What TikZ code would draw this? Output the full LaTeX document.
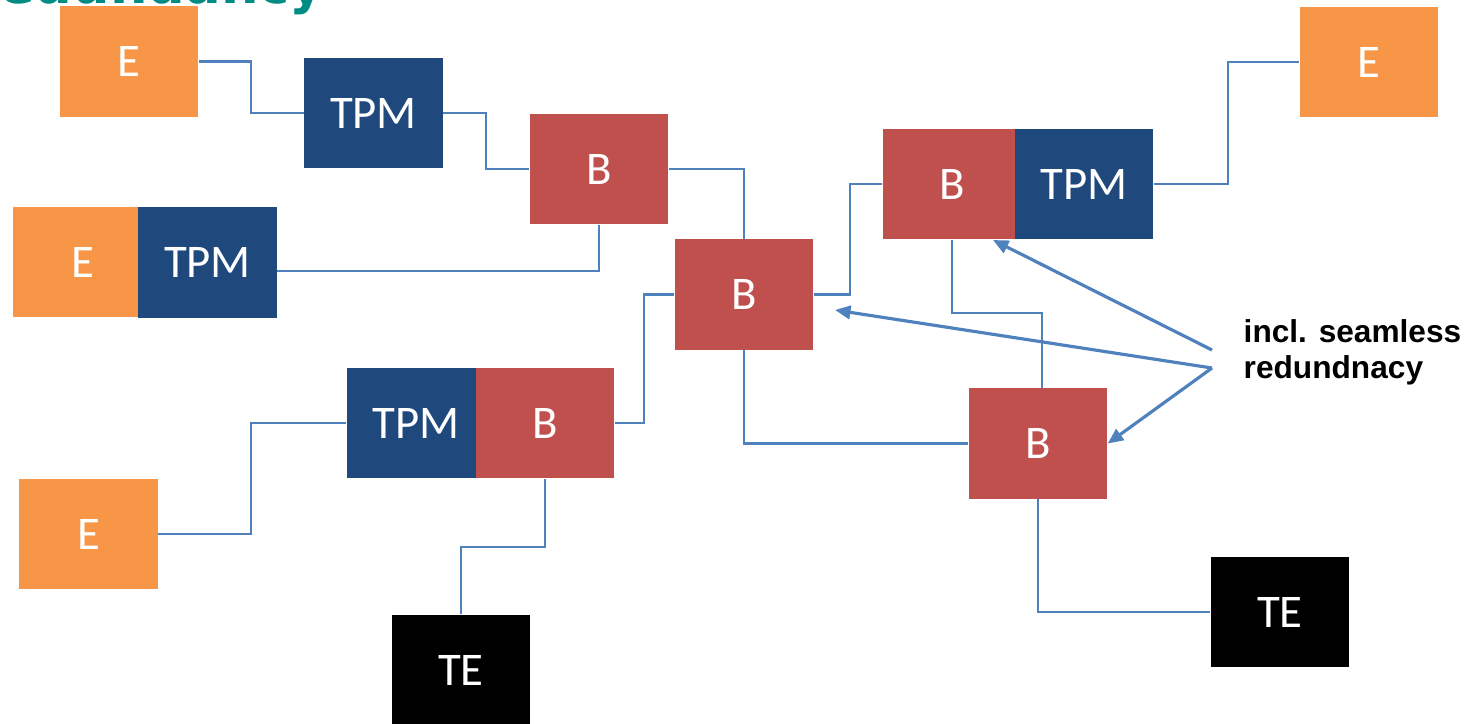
\documentclass[tikz,border=0pt]{standalone}
\usepackage{fontspec}
\setmainfont{Carlito}
\newfontfamily\notefont{Liberation Sans}
\newfontfamily\headfont{DejaVu Sans}
\usetikzlibrary{arrows.meta}
\definecolor{eorange}{HTML}{F79646}
\definecolor{tpmblue}{HTML}{1F497D}
\definecolor{bred}{HTML}{C0504D}
\definecolor{linkblue}{HTML}{4F81BD}
\definecolor{headteal}{RGB}{0,140,130}
\begin{document}
\begin{tikzpicture}[x=0.01cm,y=-0.01cm,
        box/.style={minimum width=1.38cm,minimum height=1.1cm,inner sep=0pt,text=white,
            font=\fontsize{13.3}{16}\selectfont},
        ebox/.style={box,fill=eorange},
        tpmbox/.style={box,fill=tpmblue},
        bbox/.style={box,fill=bred},
        tebox/.style={box,fill=black},
        link/.style={draw=linkblue,line width=0.6pt},
        hint/.style={draw=linkblue,line width=0.9pt,-{Triangle[length=4.4pt,width=3.8pt]}}]
    \useasboundingbox (0,0) rectangle (1466,723);
    \begin{scope}
        \clip (0,0) rectangle (1466,723);
        \node[anchor=base east,inner sep=0pt,text=headteal,
            font=\headfont\bfseries\fontsize{15}{18}\selectfont] (head) at (325,3) {Redundancy};
    \end{scope}
    % ends, bridges, TPMs
    \node[ebox] (e1) at (129,61.5) {E};
    \node[tpmbox] (tpm1) at (373.5,113) {TPM};
    \node[bbox] (b1) at (599,169) {B};
    \node[ebox] (e2) at (82.5,262) {E};
    \node[tpmbox] (tpm2) at (207.5,262.5) {TPM};
    \node[bbox] (b2) at (744,294.5) {B};
    \node[bbox] (b3) at (952,184) {B};
    \node[tpmbox] (tpm3) at (1084,184) {TPM};
    \node[ebox] (e3) at (1369,62) {E};
    \node[tpmbox] (tpm4) at (416,423) {TPM};
    \node[bbox] (b4) at (545,423) {B};
    \node[ebox] (e4) at (88.5,534) {E};
    \node[bbox] (b5) at (1038,443.5) {B};
    \node[tebox] (te1) at (461,670) {TE};
    \node[tebox] (te2) at (1280,612) {TE};
    % wiring
    \draw[link] (e1.east) -- ++(52,0) |- (tpm1.west);
    \draw[link] (tpm1.east) -- ++(43,0) |- (b1.west);
    \draw[link] (b1.south) |- ([yshift=-2.4pt]tpm2.east);
    \draw[link] (b1.east) -| (b2.north);
    \draw[link] (b2.east) -- ++(36,0) |- (b3.west);
    \draw[link] (b2.west) -- ++(-30,0) |- (b4.east);
    \draw[link] (tpm4.west) -- ++(-95,0) |- (e4.east);
    \draw[link] (b4.south) -- ++(0,68) -| (te1.north);
    \draw[link] (b2.south) |- (b5.west);
    \draw[link] (b3.south) -- ++(0,73) -| ([xshift=1.1pt]b5.north);
    \draw[link] (b5.south) |- (te2.west);
    \draw[link] (tpm3.east) -- ++(74,0) |- (e3.west);
    % redundancy note
    \node[anchor=west,align=left,inner sep=0pt,
        font=\notefont\bfseries\fontsize{9}{10.2}\selectfont] (note) at (1243,352) {incl. seamless\\redundnacy};
    \coordinate (from1) at (1212,350);
    \coordinate (from2) at (1212,368);
    \coordinate (tip3) at (993,240);
    \coordinate (tip2) at (835,310);
    \draw[hint] (from1) -- (tip3);
    \draw[hint] (from2) -- (tip2);
    \draw[hint] (from2) -- (b5.east);
\end{tikzpicture}
\end{document}
